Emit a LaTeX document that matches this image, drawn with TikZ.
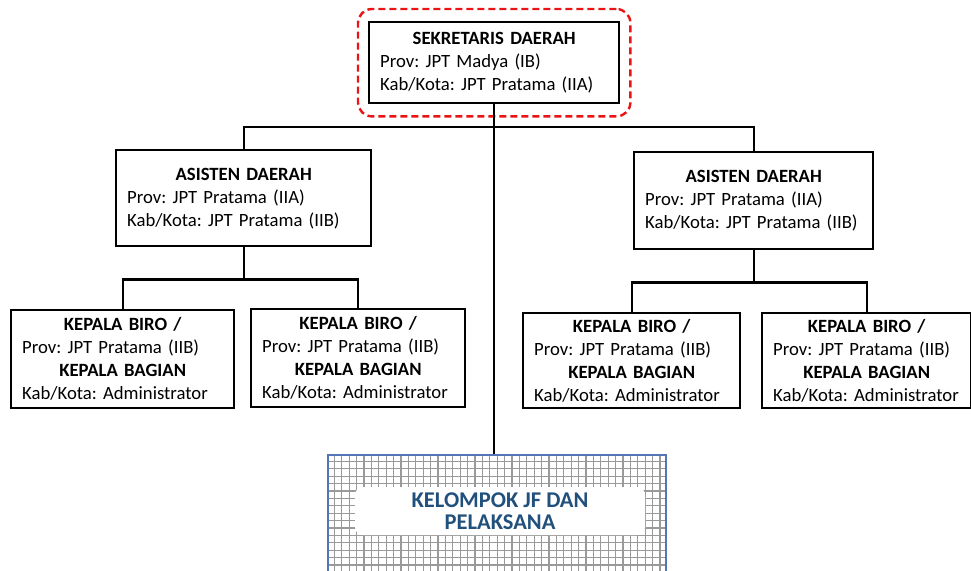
\documentclass[tikz,border=0pt]{standalone}
\usepackage{fontspec}
\setmainfont{Carlito}
\usetikzlibrary{fit}
\definecolor{frameRed}{RGB}{235,20,20}
\definecolor{gridBlue}{RGB}{84,118,182}
\definecolor{kelBlue}{RGB}{33,80,124}
\newcommand{\headline}[1]{\makebox[\linewidth]{\bfseries #1}}
\frenchspacing
\hyphenpenalty=10000

\begin{document}
\begin{tikzpicture}[x=1pt,y=-1pt,
  orgbox/.style={draw,line width=2.4pt,fill=white,anchor=north west,align=left,
    inner xsep=11pt,inner ysep=0pt,font=\fontsize{18.7}{23}\selectfont},
  redframe/.style={draw=frameRed,line width=2.4pt,dash pattern=on 7pt off 4pt,rounded corners=14pt},
  gridline/.style={draw=black!40,line width=1.2pt},
  link/.style={line width=2.4pt}]
\useasboundingbox (0,0) rectangle (971,570);
\node[orgbox,text width=228pt,minimum height=81pt] (sek) at (368,21)
  {\headline{SEKRETARIS DAERAH}\\Prov: JPT Madya (IB)\\Kab/Kota: JPT Pratama (IIA)};
\node[redframe,fit=(sek),inner xsep=10pt,inner ysep=12pt] (sekFrame) {};
\node[orgbox,text width=233pt,minimum height=96pt] (asL) at (115,149)
  {\headline{ASISTEN DAERAH}\\Prov: JPT Pratama (IIA)\\Kab/Kota: JPT Pratama (IIB)};
\node[orgbox,text width=217pt,minimum height=97pt] (asR) at (633,151)
  {\headline{ASISTEN DAERAH}\\Prov: JPT Pratama (IIA)\\Kab/Kota: JPT Pratama (IIB)};
\node[orgbox,text width=201pt,minimum height=98pt] (biroA) at (10,309)
  {\headline{KEPALA BIRO /}\\Prov: JPT Pratama (IIB)\\\headline{KEPALA BAGIAN}\\Kab/Kota:~Administrator};
\node[orgbox,text width=192pt,minimum height=98pt] (biroB) at (250,308)
  {\headline{KEPALA BIRO /}\\Prov: JPT Pratama (IIB)\\\headline{KEPALA BAGIAN}\\Kab/Kota:~Administrator};
\node[orgbox,text width=195pt,minimum height=95pt] (biroC) at (522,312)
  {\headline{KEPALA BIRO /}\\Prov: JPT Pratama (IIB)\\\headline{KEPALA BAGIAN}\\Kab/Kota:~Administrator};
\node[orgbox,text width=187pt,minimum height=95pt] (biroD) at (761,312)
  {\headline{KEPALA BIRO /}\\Prov: JPT Pratama (IIB)\\\headline{KEPALA BAGIAN}\\Kab/Kota:~Administrator};
\begin{scope}
\clip (327,454) rectangle (665,584);
\foreach \gx in {1,...,45} \draw[gridline] (327+\gx*7.4,454) -- ++(0,130);
\foreach \gy in {1,...,17} \draw[gridline] (327,454+\gy*7.4) -- ++(338,0);
\end{scope}
\node[draw=gridBlue,line width=1.5pt,anchor=north west,minimum width=338pt,minimum height=130pt] (kel) at (327,454) {};
\node[fill=white,rounded corners=8pt,minimum width=290pt,minimum height=48pt,align=center,
  text=kelBlue,font=\fontsize{22.5}{22}\selectfont\bfseries] (kelText) at (500,511) {KELOMPOK JF DAN\\PELAKSANA};
\coordinate (hub) at (sek.south |- 0,127);
\draw[link] (sek.south) -- (sek.south |- kel.north);
\draw[link] (asL.north) |- (hub) -| (asR.north);
\draw[link] (asL.south) -- ++(0,32) coordinate (hubL);
\draw[link] (biroA.north) |- (hubL) -| (biroB.north);
\draw[link] (asR.south) -- ++(0,32) coordinate (hubR);
\draw[link] (biroC.north) |- (hubR) -| (biroD.north);
\end{tikzpicture}
\end{document}
